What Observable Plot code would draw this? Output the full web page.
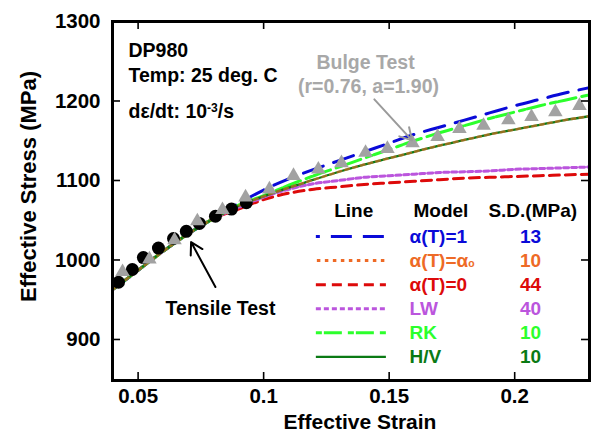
<!DOCTYPE html>
<html><head><meta charset="utf-8">
<script src="https://cdn.jsdelivr.net/npm/d3@7"></script>
<script src="https://cdn.jsdelivr.net/npm/@observablehq/plot@0.6"></script>
<style>body{margin:0;background:#fff;}</style>
</head><body><div id="chart"></div>
<script>
// ---- data ----
const strain = [0.04,0.05,0.06,0.07,0.08,0.09,0.10,0.11,0.12,0.13,0.14,0.15,0.16,0.17,0.18,0.19,0.20,0.21,0.22,0.23];
const stressAlpha1 = [963,987,1011,1033,1052,1071,1088,1102,1114,1125,1136,1147,1158,1167,1176,1185,1194,1202,1210,1217];
const stressAlphaO = [963,987,1011,1033,1052,1068,1080,1091,1101,1111,1120,1128,1136,1144,1151,1158,1164,1170,1176,1181];
const stressAlpha0 = [963,987,1011,1033,1052,1064,1076,1084,1089,1092,1095,1097,1099,1101,1103,1104,1105,1106,1107,1108];
const stressLW     = [963,987,1011,1033,1052,1066,1079,1089,1096,1100,1104,1106,1108,1110,1111,1112,1114,1115,1116,1117];
const stressRK     = [963,987,1011,1033,1052,1069,1081,1094,1106,1117,1128,1139,1150,1160,1169,1178,1186,1194,1201,1208];
const stressHV     = [963,987,1011,1033,1052,1068,1080,1091,1101,1111,1120,1128,1136,1144,1151,1158,1164,1170,1176,1181];

const tensileStrain = [0.0422,0.0477,0.0521,0.0581,0.0641,0.0692,0.0744,0.0808,0.0872,0.0931];
const tensileStress = [972,988,1003,1015,1027,1036,1046,1055,1064,1072];

const bulgeStrain = [0.0438,0.0545,0.0645,0.0736,0.0836,0.0928,0.1023,0.1119,0.1218,0.1310,0.1406,0.1493,0.1593,0.1693,0.1780,0.1876,0.1975,0.2067,0.2162,0.2258];
const bulgeStress = [985,1001,1025,1049,1063,1079,1089,1106,1114,1122,1135,1140,1147,1155,1165,1169,1176,1180,1186,1194];

const models  = ["α(T)=1","α(T)=αₒ","α(T)=0","LW","RK","H/V"];
const sdValues = ["13","10","44","40","10","10"];
const colors  = ["#0a0ad8","#ee6a26","#dd0a0a","#bb55dd","#2cff2c","#0a7a14"];
const dashes  = ["21,11","3.5,4.5","10,6","5,3","6,2,18,6","none"];
const dashOffsets = [17,-1,0,0,0,0];
const widths = [3,3,3,3,3,2.3];
const seriesValues = [stressAlpha1, stressAlphaO, stressAlpha0, stressLW, stressRK, stressHV];

const xTicks = [0.05,0.1,0.15,0.2];
const yTicks = [900,1000,1100,1200,1300];

const infoLines = ["DP980","Temp: 25 deg. C","dε/dt: 10⁻³/s"];
const bulgeLabel = ["Bulge Test","(r=0.76, a=1.90)"];
const tensileLabel = "Tensile Test";
const arrowsBulge = [{x1:0.1441,y1:1202,x2:0.1591,y2:1150.5}];
const arrowsTensile = [{x1:0.0808,y1:966,x2:0.0711,y2:1022.5}];

// ---- layout constants ----
const xDomain = [0.0398, 0.2298];
const yDomain = [848.4, 1300];
const FONT = "Liberation Sans, Arial, Helvetica, sans-serif";
const legendX1 = 0.1210, legendX2 = 0.1489;
const legendModelX = 0.1581, legendSdX = 0.2063;
const legendHeaderY = 1062.3, legendRow0 = 1029.6, legendStep = 30.3;

const marks = [];
// model curves: draw order
const order = [2,3,0,4,5,1];
for (const i of order) {
  const data = strain.map((s,k) => ({x:s, y:seriesValues[i][k]}));
  marks.push(Plot.line(data, {x:"x", y:"y", stroke:colors[i], strokeWidth: i===1 ? 2.6 : widths[i],
    strokeDasharray: dashes[i], strokeOpacity: i===1 ? 0.6 : 1, curve:"monotone-x", clip:true}));
}
// tensile circles
marks.push(Plot.dot(tensileStrain.map((s,k)=>({x:s,y:tensileStress[k]})), {x:"x", y:"y", r:6.5, fill:"black", stroke:"none"}));
// bulge triangles
marks.push(Plot.dot(bulgeStrain.map((s,k)=>({x:s,y:bulgeStress[k]})), {x:"x", y:"y", symbol:"triangle", r:5.4, fill:"#a2a2a2", stroke:"none"}));
// arrows
marks.push(Plot.arrow(arrowsBulge, {x1:"x1",y1:"y1",x2:"x2",y2:"y2", stroke:"#9a9a9a", strokeWidth:2, headLength:10}));
marks.push(Plot.arrow(arrowsTensile, {x1:"x1",y1:"y1",x2:"x2",y2:"y2", stroke:"black", strokeWidth:2, headLength:10}));

// info text
const infoDy = [29.5, 54.5, 90];
infoLines.forEach((t,i) => {
  marks.push(Plot.text([t], {text:d=>d, frameAnchor:"top-left", dx:16, dy:infoDy[i], textAnchor:"start",
    lineAnchor:"middle", fontSize:19.5, fontWeight:"bold", fill:"black"}));
});
marks.push(Plot.text([bulgeLabel[0]], {text:d=>d, frameAnchor:"top-left", dx:253, dy:41.5, textAnchor:"middle",
  lineAnchor:"middle", fontSize:19.5, fontWeight:"bold", fill:"#a8a8a8"}));
marks.push(Plot.text([bulgeLabel[1]], {text:d=>d, frameAnchor:"top-left", dx:256, dy:65, textAnchor:"middle",
  lineAnchor:"middle", fontSize:19.5, fontWeight:"bold", fill:"#a8a8a8"}));
marks.push(Plot.text([tensileLabel], {text:d=>d, frameAnchor:"top-left", dx:108, dy:287.5, textAnchor:"middle",
  lineAnchor:"middle", fontSize:19.5, fontWeight:"bold", fill:"black"}));

// legend
marks.push(Plot.text(["Line"], {text:d=>d, x:()=>0.1359, y:()=>legendHeaderY, textAnchor:"middle", fontSize:19, fontWeight:"bold", fill:"black"}));
marks.push(Plot.text(["Model"], {text:d=>d, x:()=>0.1597, y:()=>legendHeaderY, textAnchor:"start", fontSize:19, fontWeight:"bold", fill:"black"}));
marks.push(Plot.text(["S.D.(MPa)"], {text:d=>d, x:()=>0.2072, y:()=>legendHeaderY, textAnchor:"middle", fontSize:19, fontWeight:"bold", fill:"black"}));
models.forEach((m,i) => {
  const yy = legendRow0 - i*legendStep;
  marks.push(Plot.ruleY([yy], {y:d=>d, x1:()=>legendX1, x2:()=>legendX2, stroke:colors[i], strokeWidth:widths[i],
    strokeDasharray:dashes[i], strokeDashoffset:dashOffsets[i]}));
  marks.push(Plot.text([m], {text:d=>d, x:()=>legendModelX, y:()=>yy, textAnchor:"start", fontSize:19, fontWeight:"bold", fill:colors[i]}));
  marks.push(Plot.text([sdValues[i]], {text:d=>d, x:()=>legendSdX, y:()=>yy, textAnchor:"middle", fontSize:19, fontWeight:"bold", fill:colors[i]}));
});

// inward ticks on all four sides
const tx = 0.00319, ty = 10.1;
marks.push(Plot.ruleX(xTicks, {x:d=>d, y1:()=>yDomain[0], y2:()=>yDomain[0]+ty, stroke:"black", strokeWidth:1.6}));
marks.push(Plot.ruleX(xTicks, {x:d=>d, y1:()=>yDomain[1], y2:()=>yDomain[1]-ty, stroke:"black", strokeWidth:1.6}));
marks.push(Plot.ruleY(yTicks, {y:d=>d, x1:()=>xDomain[0], x2:()=>xDomain[0]+tx, stroke:"black", strokeWidth:1.6}));
marks.push(Plot.ruleY(yTicks, {y:d=>d, x1:()=>xDomain[1], x2:()=>xDomain[1]-tx, stroke:"black", strokeWidth:1.6}));

// axes
marks.push(Plot.axisX({ticks:xTicks, tickSize:0, tickPadding:7.5, tickFormat:d=>String(d), fontSize:20.5, fontWeight:"bold", label:null}));
marks.push(Plot.axisY({ticks:yTicks, tickSize:0, tickPadding:12, tickFormat:d=>String(d), fontSize:20.5, fontWeight:"bold", label:null}));
marks.push(Plot.text(["Effective Strain"], {text:d=>d, frameAnchor:"bottom", dx:9, dy:41.5, textAnchor:"middle", lineAnchor:"middle",
  fontSize:21, fontWeight:"bold", fill:"black"}));
marks.push(Plot.text(["Effective Stress (MPa)"], {text:d=>d, frameAnchor:"left", rotate:-90, dx:-84, dy:-14.5, textAnchor:"middle", lineAnchor:"middle",
  fontSize:22, fontWeight:"bold", fill:"black"}));
marks.push(Plot.frame({stroke:"black", strokeWidth:3}));

const chart = Plot.plot({
  width:599, height:433,
  marginLeft:112, marginRight:10, marginTop:21, marginBottom:53,
  x:{domain:xDomain, axis:null},
  y:{domain:yDomain, axis:null},
  style:{fontFamily:FONT, background:"white", color:"black", overflow:"visible"},
  marks
});

// real superscript / subscript rendering
d3.select(chart).selectAll("text").each(function(){
  const t = this.textContent;
  const sel = d3.select(this);
  if (t === infoLines[2]) {
    sel.text(null);
    sel.append("tspan").text("dε/dt: 10");
    sel.append("tspan").attr("dy","-0.5em").attr("font-size","0.62em").text("-3");
    sel.append("tspan").attr("dy","0.31em").text("/s");
  } else if (t === models[1]) {
    sel.text(null);
    sel.append("tspan").text("α(T)=α");
    sel.append("tspan").attr("font-size","0.55em").text("o");
  }
});
document.getElementById("chart").appendChild(chart);
</script>
</body></html>
